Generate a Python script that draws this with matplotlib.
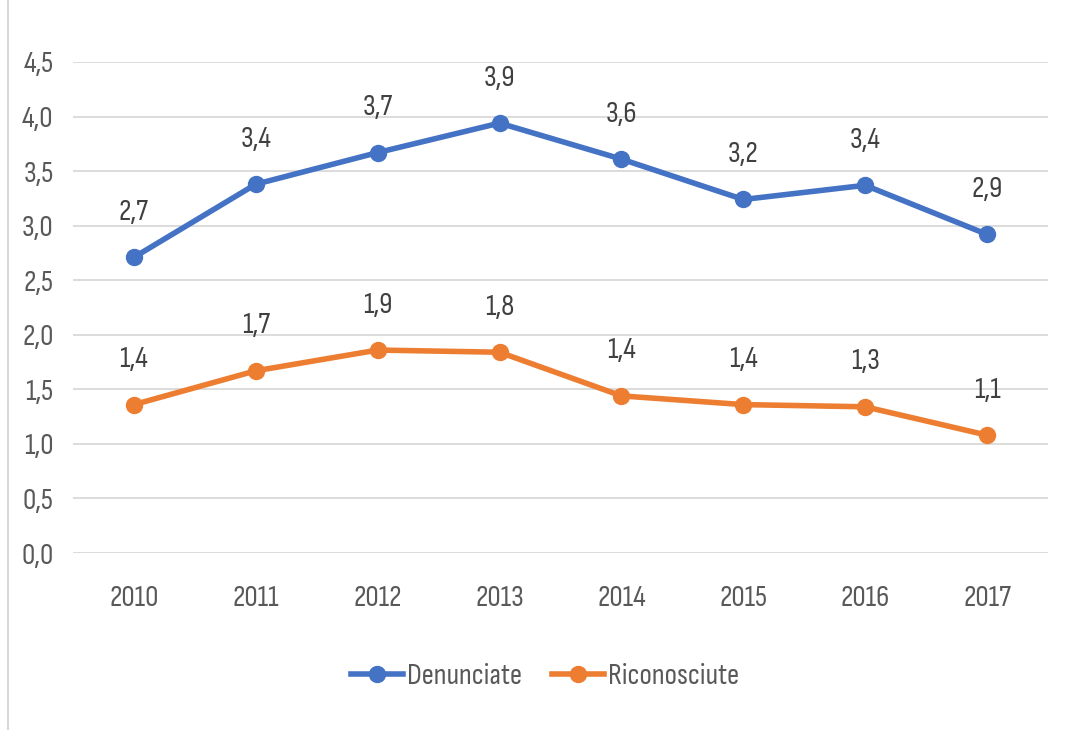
import matplotlib
matplotlib.use("Agg")
import matplotlib.pyplot as plt
from matplotlib.lines import Line2D

years = ["2010", "2011", "2012", "2013", "2014", "2015", "2016", "2017"]
denunciate = [2.71, 3.38, 3.67, 3.94, 3.61, 3.24, 3.37, 2.92]
riconosciute = [1.36, 1.67, 1.86, 1.84, 1.44, 1.36, 1.34, 1.08]
y_ticks = [0.0, 0.5, 1.0, 1.5, 2.0, 2.5, 3.0, 3.5, 4.0, 4.5]
series_names = ["Denunciate", "Riconosciute"]
colors = ["#4472C4", "#ED7D31"]

FAM = ["Sofia Sans Condensed", "DejaVu Sans"]
FS = 21.5
TXT = "#595959"
plt.rcParams["font.family"] = FAM

fig = plt.figure(figsize=(10.66, 7.30), dpi=100)
ax = fig.add_axes([73/1066, (730-553)/730, (1048-73)/1066, (553-62)/730])

x = list(range(len(years)))
for vals, name, c in zip([denunciate, riconosciute], series_names, colors):
    ax.plot(x, vals, color=c, lw=4, marker="o", ms=11.5, label=name,
            solid_capstyle="round", zorder=3)
    for xi, v in zip(x, vals):
        ax.annotate(f"{v:.1f}".replace(".", ","), (xi, v), xytext=(0, 27),
                    textcoords="offset points", ha="center", va="baseline",
                    fontsize=FS, color="#404040")

ax.set_xlim(-0.5, len(years) - 0.5)
ax.set_ylim(0, 4.5)
ax.set_yticks(y_ticks)
ax.set_yticklabels([f"{t:.1f}".replace(".", ",") for t in y_ticks])
ax.set_xticks(x)
ax.set_xticklabels(years)
ax.grid(axis="y", color="#d9d9d9", lw=1.3, zorder=0)
ax.set_axisbelow(True)
for s in ax.spines.values():
    s.set_visible(False)
ax.tick_params(axis="both", length=0, labelcolor=TXT, labelsize=FS)
ax.tick_params(axis="y", pad=14)
ax.tick_params(axis="x", pad=23)

handles = [Line2D([0], [0], color=c, lw=4, marker="o", ms=11.5) for c in colors]
leg = fig.legend(handles, series_names, loc="center", bbox_to_anchor=(545/1066, 1 - 677/730),
                 ncol=2, frameon=False, prop=dict(size=FS),
                 handlelength=1.75, handletextpad=0.12, columnspacing=1.0)
for t in leg.get_texts():
    t.set_color(TXT)

fig.add_artist(Line2D([8/1066, 8/1066], [0, 1], color="#d9d9d9", lw=1.5, transform=fig.transFigure))

fig.savefig("out.png", dpi=100)
